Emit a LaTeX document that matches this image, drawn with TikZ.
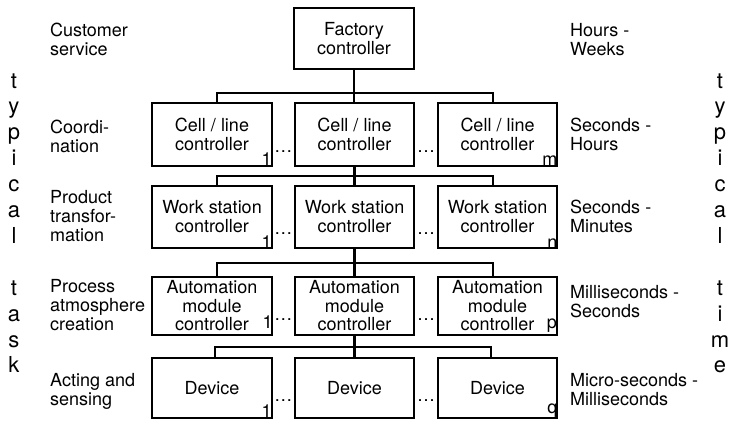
\documentclass[tikz,border=0pt]{standalone}
\usepackage{fontspec}
\setmainfont{TeX Gyre Heros}
\usetikzlibrary{calc}
\begin{document}
\begin{tikzpicture}[x=1pt,y=-1pt,
  txt/.style={font=\fontsize{18}{19}\selectfont},
  box/.style={txt, draw, line width=2.4pt, minimum width=119.5pt,
    inner sep=0pt, align=center},
  link/.style={line width=2.4pt},
  sidelabel/.style={txt, anchor=base west, align=left, inner sep=0pt},
  idx/.style={txt, anchor=south east, inner sep=0pt},
  idxb/.style={txt, anchor=base east, inner sep=0pt},
  more/.style={txt, anchor=base, inner sep=0pt},
  letter/.style={anchor=base, inner sep=0pt, font=\fontsize{22}{22}\selectfont}]
\useasboundingbox (0,0) rectangle (730,424);

% controller hierarchy
\node[box, minimum width=120pt, minimum height=61pt] (fc) at (354,38.5)
  {Factory\\controller};

\foreach \n/\x in {1/212,2/354.5,3/497.5}{
  \node[box, minimum height=63pt] (c\n) at (\x,134.5) {Cell / line\\controller};
  \node[box, minimum height=62pt] (w\n) at (\x,217) {Work station\\controller};
  \node[box, minimum height=58pt, font=\fontsize{18}{18.5}\selectfont] (a\n) at (\x,306)
    {Automation\\module\\controller};
  \node[box, minimum height=60pt] (d\n) at (\x,388) {Device};
}

% bus levels
\coordinate (k1) at (0,93);
\coordinate (k2) at (0,176);
\coordinate (k3) at (0,263);
\coordinate (k4) at (0,347);

\draw[link] (fc.south) -- (fc.south |- c2.north);
\draw[link] ([xshift=5pt]c1.north) |- (c2.north |- k1) -| ([xshift=-4.5pt]c3.north);
\draw[link] (c2.south) -- (w2.north);
\draw[link] ([xshift=5pt]w1.north) |- (w2.north |- k2) -| ([xshift=-4.5pt]w3.north);
\draw[link] (w2.south) -- (a2.north);
\draw[link] ([xshift=5pt]a1.north) |- (a2.north |- k3) -| ([xshift=-4.5pt]a3.north);
\draw[link] (a2.south) -- (d2.north);
\draw[link] ([xshift=3pt]d1.north) |- (d2.north |- k4) -| ([xshift=-6.5pt]d3.north);

% instance indices
\coordinate (ya) at (0,328);
\coordinate (a1e) at (a1.east);
\coordinate (a3e) at ([xshift=-1.5pt]a3.east);
\node[idx] (c1i) at ([xshift=-1pt,yshift=1.5pt]c1.south east) {1};
\node[idx] (c3i) at ([xshift=-1pt,yshift=1.5pt]c3.south east) {m};
\node[idx] (w1i) at ([xshift=-1pt,yshift=1pt]w1.south east) {1};
\node[idx] (w3i) at ([xshift=-1pt,yshift=1pt]w3.south east) {n};
\node[idxb] (a1i) at (a1e |- ya) {1};
\node[idxb] (a3i) at (a3e |- ya) {p};
\node[idx] (d1i) at ([xshift=-1pt,yshift=1.5pt]d1.south east) {1};
\node[idx] (d3i) at ([xshift=-1pt,yshift=1.5pt]d3.south east) {q};

% ellipses between instances
\foreach \r/\y in {c/152,w/234,a/320,d/401}{
  \coordinate (yy\r) at (0,\y);
  \coordinate (ml\r) at ($(\r1.east)!0.5!(\r2.west)$);
  \coordinate (mr\r) at ($(\r2.east)!0.5!(\r3.west)$);
  \node[more] (el\r) at (ml\r |- yy\r) {\ldots};
  \node[more] (er\r) at (mr\r |- yy\r) {\ldots};
}

% typical task (positioned by the baseline of the last line)
\node[sidelabel] (t1) at (50,55) {Customer\\service};
\node[sidelabel] (t2) at (50,152) {Coordi-\\nation};
\node[sidelabel] (t3) at (50,241) {Product\\transfor-\\mation};
\node[sidelabel] (t4) at (50,330) {Process\\atmosphere\\creation};
\node[sidelabel] (t5) at (50,405) {Acting and\\sensing};

% typical time
\node[sidelabel] (h1) at (570,55) {Hours -\\Weeks};
\node[sidelabel] (h2) at (570,150) {Seconds -\\Hours};
\node[sidelabel] (h3) at (570,232) {Seconds -\\Minutes};
\node[sidelabel] (h4) at (570,317) {Milliseconds -\\Seconds};
\node[sidelabel] (h5) at (570,405) {Micro-seconds -\\Milliseconds};

% vertical captions
\foreach \ch [count=\i from 0] in {t,y,p,i,c,a,l}{
  \node[letter] (lt\i) at (14,88+25.9*\i) {\ch};
  \node[letter] (rt\i) at (720,88+25.9*\i) {\ch};
}
\foreach \ch [count=\i from 8] in {t,a,s,k}
  \node[letter] (lt\i) at (14,88+25.9*\i) {\ch};
\foreach \ch [count=\i from 8] in {t,i,m,e}
  \node[letter] (rt\i) at (720,88+25.9*\i) {\ch};
\end{tikzpicture}
\end{document}
